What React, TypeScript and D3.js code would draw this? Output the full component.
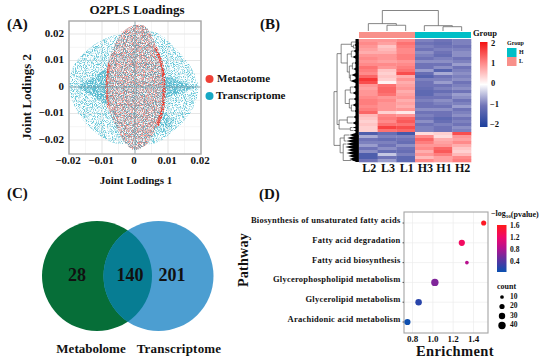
import React from 'react'
import * as d3 from 'd3'

const serif = '"Liberation Serif", serif'

// (A) O2PLS loadings, cloud outlines
const loadingTicks = [-0.02, -0.01, 0, 0.01, 0.02]
const transcriptomeOutline = [
  [-0.02, 0], [-0.0188, 0.0075], [-0.0145, 0.014], [-0.0076, 0.019], [0, 0.0205], [0.0065, 0.0205],
  [0.0127, 0.014], [0.0172, 0.007], [0.0192, 0], [0.0167, -0.01], [0.0106, -0.0175], [0.0066, -0.021],
  [0, -0.0215], [-0.0066, -0.021], [-0.0115, -0.0175], [-0.0172, -0.01],
]
const metabolomeOutline = [
  [-0.0088, 0], [-0.0083, 0.008], [-0.0065, 0.015], [-0.003, 0.0215], [0.0005, 0.0235], [0.0035, 0.0225],
  [0.0065, 0.015], [0.0085, 0.007], [0.009, 0], [0.0085, -0.008], [0.007, -0.014], [0.004, -0.021],
  [0, -0.0238], [-0.003, -0.021], [-0.006, -0.014], [-0.0083, -0.007],
]
const denseTealLeft = [[-0.017, 0], [-0.012, 0.004], [-0.008, 0.007], [-0.008, -0.007], [-0.012, -0.004]]
const denseTealRight = [[0.008, 0.004], [0.014, 0.002], [0.018, 0], [0.014, -0.002], [0.008, -0.004]]
const denseTealLower = [[0.0075, -0.009], [0.0115, -0.0125], [0.0105, -0.016], [0.0065, -0.0165]]
const metabolomeRimRight = [[0.0062, 0.015], [0.0082, 0.008], [0.0088, 0], [0.0084, -0.008], [0.0068, -0.0145]]
const metabolomeRimLeft = [[-0.0078, 0.009], [-0.0086, 0], [-0.008, -0.008]]
const metabolitePoints = [
  [-0.004, 0.021], [-0.002, 0.0225], [0.001, 0.0232], [0.003, 0.0218], [-0.0052, 0.0175], [-0.001, 0.019], [0.004, 0.018],
  [-0.007, 0.012], [-0.004, 0.014], [0.001, 0.015], [0.005, 0.0135], [0.0072, 0.011], [-0.0078, 0.007], [-0.0055, 0.0085],
  [-0.002, 0.0105], [0.002, 0.011], [0.0065, 0.007], [-0.0082, 0.003], [-0.006, 0.002], [-0.003, 0.005], [0.0012, 0.006],
  [0.004, 0.003], [0.0075, 0.0035], [-0.0084, -0.002], [-0.0065, -0.004], [-0.002, -0.002], [0.002, -0.0045], [0.0055, -0.002],
  [0.008, -0.005], [-0.0078, -0.008], [-0.005, -0.009], [-0.001, -0.0075], [0.003, -0.0095], [0.0065, -0.009], [-0.006, -0.0135],
  [-0.0035, -0.0125], [0.0005, -0.0135], [0.004, -0.014], [0.0062, -0.0135], [-0.003, -0.018], [0, -0.017], [0.003, -0.0185],
  [-0.0015, -0.0215], [0.001, -0.0228], [0.0032, -0.0205], [-0.0045, -0.016], [0.0048, -0.0165], [-0.0035, 0.0195],
]
const transcriptPoints = [
  [-0.019, 0.003], [-0.0175, 0.008], [-0.0155, 0.012], [-0.012, 0.015], [-0.0095, 0.0175], [-0.014, 0.007], [-0.011, 0.01],
  [-0.0165, 0.002], [-0.0125, 0.003], [-0.0105, 0.0055], [-0.019, -0.003], [-0.017, -0.007], [-0.014, -0.012], [-0.0115, -0.016],
  [-0.0085, -0.0185], [-0.013, -0.006], [-0.0105, -0.011], [-0.015, -0.002], [0.018, 0.004], [0.016, 0.0085], [0.0135, 0.012],
  [0.0105, 0.016], [0.0075, 0.019], [0.0125, 0.006], [0.0105, 0.011], [0.015, 0.002], [0.0185, -0.003], [0.0165, -0.008],
  [0.0135, -0.012], [0.0105, -0.016], [0.0125, -0.005], [0.0105, -0.009], [0.0075, -0.019], [-0.004, 0.012], [0.002, 0.017],
  [-0.002, 0.004], [0.003, -0.002], [-0.004, -0.006], [0.001, -0.012], [0.004, 0.008],
]

// (B) heatmap, one list per sample, rows top to bottom
const heatSamples = ['L2', 'L3', 'L1', 'H3', 'H1', 'H2']
const heatL2 = [0.9, 1, 0.9, 0.8, 0.7, 0.9, 1, 0.9, 1, 1.2, 1.1, 1, 1.3, 1.7, 1.5, 0.9, 0.8, 0.9, 0.9, 1, 1.1, 1.1, 1, 1.1, 1.3, 0.6, 0.5, 0.4, 0.5, 0.4, 0.4, -1.4, -0.6, -1, -0.9, -0.7, -1, -0.8, -1.4, -1.4, -1]
const heatL3 = [0.9, 0.8, 0.5, 0.6, 0.7, 0.9, 0.9, 0.8, 1, 0.9, 0.5, 0.4, 0.5, 0.4, 0.1, 1.2, 1.3, 1.3, 1.2, 0.9, 1, 0.9, 0.9, 0.9, 0.4, 1, 1.1, 1, 1.2, 1.6, 1.2, -1.1, -0.9, -1.1, -0.9, -1, -0.8, -1.1, -0.4, -1, -0.7]
const heatL1 = [1, 1.2, 1.1, 1, 1, 1.1, 1.1, 0.9, 1, 1.1, 1.2, 1.5, 0.7, 0.9, 0.7, 0.8, 0.9, 0.7, 0.8, 0.9, 0.7, 0.8, 0.7, 0.9, 0.2, 0.9, 1.3, 1.4, 1.2, 1.5, 1.3, -1.5, -0.9, -1, -1.1, -0.8, -1, -1.1, -0.9, -1.2, -1.2]
const heatH3 = [-0.9, -1, -0.9, -1, -0.8, -0.9, -1, -0.8, -1, -1, -0.7, -1.1, -1.3, -0.9, -1, -1, -1.1, -1.2, -1.2, -1, -0.9, -1, -1, -0.8, -1, -0.9, -1, -0.8, -1, -0.9, -0.9, 0.3, 1, 1.3, 1.1, 0.9, 1, 0.7, 0.9, 0.6, 1]
const heatH1 = [-1, -1.1, -1, -0.9, -1, -1.1, -0.9, -0.8, -1, -0.8, -1.3, -0.6, -1, -0.9, -0.7, -1, -0.9, -1.1, -0.9, -1, -0.8, -0.9, -1, -0.8, -1, -1, -1.2, -1.1, -0.9, -1, -1, 0.4, 0.3, 0.7, 0.8, 0.9, 1.3, 1.4, 1.1, 0.8, 0.8]
const heatH2 = [-0.9, -0.9, -1, -0.9, -0.8, -0.8, -1, -0.9, -0.7, -1, -0.9, -0.8, -0.9, -0.8, -1, -0.9, -0.8, -1, -0.7, -0.8, -1, -0.9, -0.7, -1, -0.9, -0.8, -1, -0.9, -1, -0.8, -0.9, 1.5, 0.9, 0.8, 1, 0.7, 0.5, 0.4, 0.6, 1, 1.1]
const heatValues = [heatL2, heatL3, heatL1, heatH3, heatH1, heatH2]
const heatTicks = [2, 1, 0, -1, -2]
const groupKeys = ['H', 'L']
const sampleTree = {
  h: 1,
  children: [
    { h: 0.36, children: [{ name: 'L2' }, { h: 0.28, children: [{ name: 'L3' }, { name: 'L1' }] }] },
    { h: 0.26, children: [{ name: 'H3' }, { h: 0.21, children: [{ name: 'H1' }, { name: 'H2' }] }] },
  ],
}
// terminal clusters [from row, to row, height]
const upperTree: any = {
  h: 21,
  children: [
    {
      h: 17,
      children: [
        { h: 7, children: [[0, 1, 3], { h: 5, children: [[1, 2, 4], [2, 3, 3]] }] },
        {
          h: 11,
          children: [
            { h: 7, children: [[3, 4, 5], [5, 6, 6]] },
            {
              h: 9,
              children: [
                { h: 6, children: [[7, 8, 4], [9, 10, 5]] },
                { h: 8, children: [[11, 12, 7], [13, 14, 8]] },
              ],
            },
          ],
        },
      ],
    },
    {
      h: 13,
      children: [
        { h: 8, children: [[15, 16, 5], [17, 18, 6]] },
        { h: 9, children: [[19, 20, 5], { h: 7, children: [[21, 22, 6], [23, 24, 4]] }] },
      ],
    },
    {
      h: 19,
      children: [
        { h: 11, children: [[25, 26, 5], [27, 28, 6]] },
        { h: 8, children: [[29, 29, 6], [30, 30, 5]] },
      ],
    },
  ],
}
const lowerTree: any = {
  h: 18,
  children: [
    { h: 14, children: [[31, 32, 9], [32, 33, 11], [33, 34, 12]] },
    { h: 15, children: [[34, 35, 12], [35, 36, 13], [36, 37, 11], [37, 38, 12], [38, 39, 10], [39, 40, 9], [40, 40, 7]] },
  ],
}
const rowTree: any = { h: 24, children: [upperTree, lowerTree] }

// (C) Venn counts
const vennCounts = [28, 140, 201]
const vennSets = ['Metabolome', 'Transcriptome']

// (D) enrichment dots
const pathways = ['Biosynthesis of unsaturated fatty acids', 'Fatty acid degradation', 'Fatty acid biosynthesis', 'Glycerophospholipid metabolism', 'Glycerolipid metabolism', 'Arachidonic acid metabolism']
const enrichment = [1.5, 1.285, 1.335, 1.02, 0.86, 0.75]
const pvalues = [1.6, 1.3, 0.9, 0.65, 0.25, 0.12]
const counts = [19, 28, 10, 40, 31, 28]
const enrichTicks = [0.8, 1.0, 1.2, 1.4]
const pvalueTicks = [1.6, 1.2, 0.8, 0.4]
const countTicks = [10, 20, 30, 40]

const fmtLoading = (d: number) => (d === 0 ? '0' : (d < 0 ? '\u2212' : '') + d3.format('.2f')(Math.abs(d)))

const Bold = ({ children, size, ...rest }: any) => (
  <text fontFamily={serif} fontWeight="bold" fontSize={size} fill="#111" dominantBaseline="middle" {...rest}>
    {children}
  </text>
)

const PanelA = () => {
  const x = d3.scaleLinear().domain([-0.02, 0.02]).range([69, 201])
  const y = d3.scaleLinear().domain([-0.02, 0.02]).range([140, 34])
  const blob = d3.line().x((d) => x(d[0])).y((d) => y(d[1])).curve(d3.curveCatmullRomClosed as any)
  const rim = d3.line().x((d) => x(d[0])).y((d) => y(d[1])).curve(d3.curveCatmullRom)
  const minor = [-0.015, -0.005, 0.005, 0.015]
  return (
    <g>
      <rect x={69} y={21} width={132} height={133} fill="#fff" />
      {minor.map((t) => (
        <g key={t} stroke="#f3f3f3" strokeWidth={0.8}>
          <line x1={x(t)} x2={x(t)} y1={21} y2={154} />
          <line x1={69} x2={201} y1={y(t)} y2={y(t)} />
        </g>
      ))}
      {loadingTicks.map((t) => (
        <g key={t} stroke="#e6e6e6" strokeWidth={1.1}>
          <line x1={x(t)} x2={x(t)} y1={21} y2={154} />
          <line x1={69} x2={201} y1={y(t)} y2={y(t)} />
        </g>
      ))}
      <path d={blob(transcriptomeOutline as any)!} fill="#63c6d8" filter="url(#grainTeal)" />
      <path d={blob(denseTealLeft as any)!} fill="#55b9cf" filter="url(#grainDense)" />
      <path d={blob(denseTealRight as any)!} fill="#55b9cf" filter="url(#grainDense)" />
      <path d={blob(denseTealLower as any)!} fill="#55b9cf" filter="url(#grainTeal2)" />
      <path d={blob(metabolomeOutline as any)!} fill="#fff" fillOpacity={0.55} />
      <path d={blob(metabolomeOutline as any)!} fill="#f58b83" filter="url(#grainRed)" />
      <path d={blob(metabolomeOutline as any)!} fill="#6e9bab" filter="url(#grainTeal2)" />
      <path d={rim(metabolomeRimRight as any)!} fill="none" stroke="#ee3b2e" strokeWidth={3} filter="url(#grainDense)" />
      <path d={rim(metabolomeRimLeft as any)!} fill="none" stroke="#e8503f" strokeWidth={2.4} filter="url(#grainDense)" />
      {transcriptPoints.map((d, i) => (
        <circle key={i} cx={x(d[0])} cy={y(d[1])} r={0.4} fill="#1fa5c0" opacity={0.6} />
      ))}
      {metabolitePoints.map((d, i) => (
        <circle key={i} cx={x(d[0])} cy={y(d[1])} r={0.4} fill="#ee3b2e" opacity={0.6} />
      ))}
      <line x1={x(0)} x2={x(0)} y1={21} y2={154} stroke="#8fa5ac" strokeWidth={0.8} />
      <line x1={69} x2={201} y1={y(0)} y2={y(0)} stroke="#6f9dab" strokeWidth={0.8} />
      <rect x={69} y={21} width={132} height={133} fill="none" stroke="#a8a8a8" strokeWidth={1.4} />
      {loadingTicks.map((t) => (
        <Bold key={t} size={11} x={x(t) - 1} y={161.5} textAnchor="middle">{fmtLoading(t)}</Bold>
      ))}
      {loadingTicks.map((t) => (
        <Bold key={t} size={11} x={64} y={y(t)} textAnchor="end">{fmtLoading(t)}</Bold>
      ))}
      <Bold size={13} x={137} y={11} textAnchor="middle">O2PLS Loadings</Bold>
      <Bold size={11} x={136} y={181} textAnchor="middle">Joint Lodings 1</Bold>
      <Bold size={13} transform="translate(28,97) rotate(-90)" textAnchor="middle">Joint Lodings 2</Bold>
      <circle cx={209.5} cy={79} r={4} fill="#ef4137" />
      <circle cx={209.5} cy={96} r={4} fill="#16a8c4" />
      <Bold size={11} x={217} y={79.5}>Metaotome</Bold>
      <Bold size={11} x={216} y={96.5}>Transcriptome</Bold>
    </g>
  )
}

const PanelB = () => {
  const x = d3.scaleBand().domain(heatSamples).range([359, 471])
  const rows = d3.range(heatL2.length)
  const y = d3.scaleBand<number>().domain(rows).range([39, 162])
  const color = d3.scaleLinear<string>().domain([-2, -1, 0, 1, 2]).range(['#1c3f9c', '#6f73b7', '#ffffff', '#ff8a8a', '#f31212'])
  const barY = d3.scaleLinear().domain([2, -2]).range([44, 125])

  // sample dendrogram
  const sampleRoot = d3.hierarchy<any>(sampleTree)
  const centre = (n: any): number => (n.children ? d3.mean(n.children.map(centre)) as number : x(n.data.name)! + x.bandwidth() / 2)
  const topY = d3.scaleLinear().domain([0, 1]).range([31, 10.5])
  const nodeH = (n: any) => (Array.isArray(n.data) ? n.data[2] : n.data.h ?? 0)

  // row dendrogram
  const rowRoot = d3.hierarchy<any>(rowTree, (d) => (Array.isArray(d) ? null : d.children))
  const rowX = d3.scaleLinear().domain([0, 24]).range([358.5, 334])
  const rowMid = (n: any): number => {
    if (n.children) return d3.mean(n.children.map(rowMid)) as number
    return (y(n.data[0])! + y(n.data[1])! + y.bandwidth()) / 2
  }
  return (
    <g>
      {heatSamples.map((s, i) => rows.map((r) => (
        <rect key={s + r} x={x(s)} y={y(r)} width={x.bandwidth() + 0.3} height={y.bandwidth() + 0.3} fill={color(heatValues[i][r])} />
      )))}
      <rect x={359} y={32} width={x.bandwidth() * 3} height={6} fill="#f8908a" />
      <rect x={359 + x.bandwidth() * 3} y={32} width={x.bandwidth() * 3} height={6} fill="#00bfc7" />
      {sampleRoot.descendants().filter((n) => n.children).map((n, i) => {
        const [a, b] = n.children!
        return (
          <path key={i} fill="none" stroke="#666" strokeWidth={0.8}
            d={`M${centre(a)},${topY(nodeH(a))}V${topY(nodeH(n))}H${centre(b)}V${topY(nodeH(b))}`} />
        )
      })}
      {rowRoot.descendants().filter((n) => n.children).map((n, i) => {
        const first = n.children![0]
        const last = n.children![n.children!.length - 1]
        return (
          <path key={i} fill="none" stroke="#555" strokeWidth={0.7}
            d={`M${rowX(nodeH(first))},${rowMid(first)}H${rowX(nodeH(n))}V${rowMid(last)}H${rowX(nodeH(last))}`} />
        )
      })}
      {rowRoot.leaves().map((n, i) => (
        <path key={i} fill="#000"
          d={`M${rowX(n.data[2])},${rowMid(n)}L${rowX(0)},${y(n.data[0])}V${y(n.data[1])! + y.bandwidth()}Z`} />
      ))}
      <rect x={355.5} y={39} width={3.1} height={123} fill="#000" />
      {heatSamples.map((s) => (
        <Bold key={s} size={12} x={x(s)! + x.bandwidth() / 2 + 1} y={169.5} textAnchor="middle">{s}</Bold>
      ))}
      <Bold size={8.5} x={473} y={34.5}>Group</Bold>
      <rect x={480} y={42} width={7.5} height={85} fill="url(#heatBar)" />
      {heatTicks.map((t) => (
        <Bold key={t} size={8.5} x={t < 0 ? 490 : 493} y={barY(t)} textAnchor={t < 0 ? 'start' : 'middle'}>
          {t < 0 ? `\u2212${-t}` : t}
        </Bold>
      ))}
      <Bold size={6} x={507} y={43.5}>Group</Bold>
      {groupKeys.map((g, i) => (
        <g key={g}>
          <rect x={507} y={48 + i * 9} width={9.5} height={9} fill={g === 'H' ? '#00bfc7' : '#f8908a'} />
          <Bold size={6} x={519} y={52.5 + i * 9}>{g}</Bold>
        </g>
      ))}
    </g>
  )
}

const PanelC = () => {
  const cx = d3.scaleOrdinal<string, number>().domain(vennSets).range([97, 158.5])
  const labelX = [77, 130, 172]
  return (
    <g>
      <clipPath id="vennLeft"><circle cx={cx(vennSets[0])} cy={276} r={55} /></clipPath>
      <circle cx={cx(vennSets[0])} cy={276} r={55} fill="#066e38" />
      <circle cx={cx(vennSets[1])} cy={276} r={55} fill="#4c9ed1" />
      <circle cx={cx(vennSets[1])} cy={276} r={55} fill="#077d93" clipPath="url(#vennLeft)" />
      {vennCounts.map((c, i) => (
        <Bold key={c} size={18} x={labelX[i]} y={277} textAnchor="middle">{c}</Bold>
      ))}
      <Bold size={13} x={91} y={350} textAnchor="middle">{vennSets[0]}</Bold>
      <Bold size={13} x={179} y={350} textAnchor="middle" letterSpacing={0.2}>{vennSets[1]}</Bold>
    </g>
  )
}

const PanelD = () => {
  const x = d3.scaleLinear().domain([0.8, 1.4]).range([412.5, 473.5])
  const y = d3.scalePoint().domain(pathways).range([223, 322])
  const r = d3.scaleSqrt().domain([0, 40]).range([0, 3.7])
  const color = d3.scaleLinear<string>().domain([0.1, 0.5, 0.9, 1.25, 1.65]).range(['#0a50b0', '#5c32a0', '#b8108e', '#f0086a', '#ff1a1a'])
  const barY = d3.scaleLinear().domain([1.6, 0.4]).range([226.5, 262])
  return (
    <g>
      <rect x={404} y={212} width={84} height={121} fill="#fff" />
      {enrichTicks.map((t) => (
        <line key={t} x1={x(t)} x2={x(t)} y1={212} y2={333} stroke="#ececec" strokeWidth={0.7} />
      ))}
      {pathways.map((p) => (
        <line key={p} x1={404} x2={488} y1={y(p)} y2={y(p)} stroke="#ececec" strokeWidth={0.7} />
      ))}
      <rect x={404} y={212} width={84} height={121} fill="none" stroke="#a5a5a5" strokeWidth={1.1} />
      {pathways.map((p, i) => (
        <g key={p}>
          <Bold size={8.5} x={400.5} y={y(p)! - 2} textAnchor="end" letterSpacing={0.25}>{p}</Bold>
          <line x1={402.5} x2={404} y1={y(p)} y2={y(p)} stroke="#333" strokeWidth={0.8} />
          <circle cx={x(enrichment[i])} cy={y(p)} r={r(counts[i])} fill={color(pvalues[i])} />
        </g>
      ))}
      {enrichTicks.map((t) => (
        <Bold key={t} size={9} x={x(t)} y={339.5} textAnchor="middle">{t.toFixed(1)}</Bold>
      ))}
      <Bold size={14} transform="translate(245,260) rotate(-90)" textAnchor="middle" letterSpacing={0.3}>Pathway</Bold>
      <Bold size={14.5} x={455} y={353} textAnchor="middle" letterSpacing={0.4}>Enrichment</Bold>
      <text x={491} y={214.5} fontFamily={serif} fontWeight="bold" fontSize={8} fill="#111" dominantBaseline="middle">
        {'\u2212log'}<tspan fontSize={5} dy={2}>10</tspan><tspan dy={-2}>(pvalue)</tspan>
      </text>
      <rect x={497} y={225} width={9.5} height={47} fill="url(#pBar)" />
      {pvalueTicks.map((t) => (
        <Bold key={t} size={7.5} x={510} y={barY(t)}>{t.toFixed(1)}</Bold>
      ))}
      <Bold size={8} x={497} y={287}>count</Bold>
      {countTicks.map((c, i) => (
        <g key={c}>
          <circle cx={502} cy={297 + i * 9.5} r={r(c)} fill="#000" />
          <Bold size={7.5} x={510} y={297 + i * 9.5}>{c}</Bold>
        </g>
      ))}
    </g>
  )
}

const Grain = ({ id, seed, k, t }: { id: string; seed: number; k: number; t: number }) => (
  <filter id={id} x="-0.3" y="-0.1" width="1.6" height="1.2">
    <feTurbulence type="fractalNoise" baseFrequency="1.1" numOctaves={1} seed={seed} result="noise" />
    <feColorMatrix in="noise" type="matrix" values={`0 0 0 0 0  0 0 0 0 0  0 0 0 0 0  0 0 0 ${k} ${-t}`} result="mask" />
    <feComposite in="SourceGraphic" in2="mask" operator="in" />
    <feGaussianBlur stdDeviation={0.35} />
  </filter>
)

const App = () => {
  const heatStops = d3.scaleLinear<string>().domain([2, 1, 0, -1, -2]).range(['#f31212', '#ff8a8a', '#ffffff', '#6f73b7', '#1c3f9c'])
  const pStops = d3.scaleLinear<string>().domain([1.65, 1.25, 0.9, 0.5, 0.1]).range(['#ff1a1a', '#f0086a', '#b8108e', '#5c32a0', '#0a50b0'])
  return (
    <div style={{ position: 'absolute', left: 0, top: 0 }}>
      <svg width={550} height={362} style={{ display: 'block', background: '#fff' }}>
        <defs>
          <Grain id="grainTeal" seed={4} k={5} t={2.3} />
          <Grain id="grainDense" seed={17} k={5} t={1.9} />
          <Grain id="grainTeal2" seed={11} k={5} t={2.3} />
          <Grain id="grainRed" seed={23} k={5} t={2.15} />
          <linearGradient id="heatBar" x1="0" x2="0" y1="0" y2="1">
            {d3.range(5).map((i) => <stop key={i} offset={i / 4} stopColor={heatStops(2 - i)} />)}
          </linearGradient>
          <linearGradient id="pBar" x1="0" x2="0" y1="0" y2="1">
            {[1.65, 1.25, 0.9, 0.5, 0.1].map((v) => <stop key={v} offset={(1.65 - v) / 1.55} stopColor={pStops(v)} />)}
          </linearGradient>
        </defs>
        <Bold size={15} x={7} y={26}>(A)</Bold>
        <Bold size={15} x={260} y={25.5}>(B)</Bold>
        <Bold size={15} x={7} y={195}>(C)</Bold>
        <Bold size={15} x={259} y={195.5}>(D)</Bold>
        <PanelA />
        <PanelB />
        <PanelC />
        <PanelD />
      </svg>
    </div>
  )
}

export default App
